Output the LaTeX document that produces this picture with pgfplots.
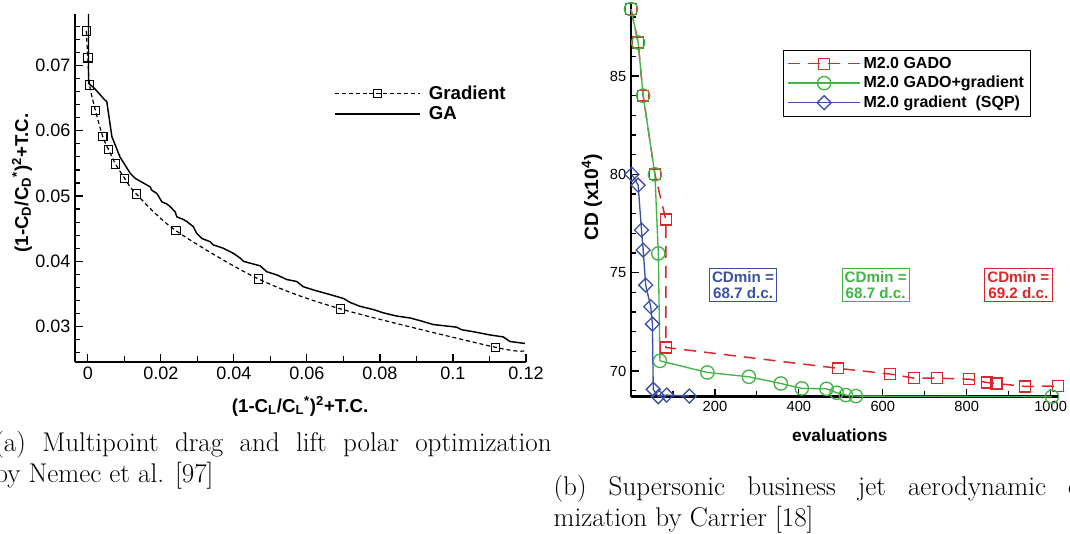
\documentclass[border=0pt]{standalone}
\usepackage{fontspec}
\usepackage{pgfplots}
\pgfplotsset{compat=1.18}
\newfontfamily\sans{Liberation Sans}
\definecolor{cred}{RGB}{218,37,42}
\definecolor{cgreen}{RGB}{65,180,70}
\definecolor{cblue}{RGB}{60,80,165}
\begin{document}
\begin{tikzpicture}
\useasboundingbox (0,0) rectangle (802.5pt,-400.5pt);
\clip (0,0) rectangle (802.5pt,-400.5pt);
% ---------------- left chart ----------------
\begin{axis}[
 at={(56.25pt,-271.3pt)}, anchor=south west, scale only axis,
 width=338.25pt, height=260.8pt,
 xmin=-0.0035, xmax=0.12, ymin=0.0246, ymax=0.0779,
 axis lines=left, axis line style={-, line width=1.6pt},
 every axis x label/.style={at={(axis description cs:0.499,-0.127)}, anchor=center},
 every axis y label/.style={at={(axis description cs:-0.1175,0.514)}, anchor=center, rotate=90},
 scaled ticks=false,
 tick align=inside,
 xtick={0,0.02,0.04,0.06,0.08,0.1,0.12},
 xticklabels={0,0.02,0.04,0.06,0.08,0.1,0.12},
 ytick={0.03,0.04,0.05,0.06,0.07},
 yticklabels={0.03,0.04,0.05,0.06,0.07},
 minor xtick={0.01,0.03,0.05,0.07,0.09,0.11},
 minor ytick={0.026,0.028,0.032,0.034,0.036,0.038,0.042,0.044,0.046,0.048,0.052,0.054,0.056,0.058,0.062,0.064,0.066,0.068,0.072,0.074,0.076},
 major tick length=6pt, minor tick length=4pt,
 every tick/.style={black, line width=0.9pt},
 tick label style={font=\sans\fontsize{13.5}{15}\selectfont},
 label style={font=\sans\bfseries\fontsize{14}{16}\selectfont},
 xlabel={(1-C\textsubscript{L}/C\textsubscript{L}\textsuperscript{*})\textsuperscript{2}+T.C.},
 ylabel={(1-C\textsubscript{D}/C\textsubscript{D}\textsuperscript{*})\textsuperscript{2}+T.C.},
 legend style={at={(axis description cs:0.565,0.81)}, anchor=north west, draw=none, fill=none,
   font=\sans\bfseries\fontsize{14}{16}\selectfont, cells={anchor=west}, row sep=0pt,
   nodes={inner xsep=6pt}},
 legend image code/.code={\draw[#1, mark indices={2}] plot coordinates {(0pt,0pt) (32pt,0pt) (64pt,0pt)};},
 clip=false,
]
\addplot[black, line width=0.9pt, dash pattern=on 3pt off 2.2pt, smooth, tension=0.5,
  mark=square, mark size=3.2pt, mark options={solid, line width=0.8pt}, mark indices={1,...,13}]
 coordinates {(-0.0004,0.0753) (0,0.0712) (0.0005,0.0670) (0.0021,0.0631) (0.0041,0.0591)
 (0.0057,0.0571) (0.0076,0.0549) (0.0101,0.0527) (0.0133,0.0503) (0.0241,0.0447)
 (0.0467,0.0373) (0.0692,0.0327) (0.1117,0.0268) (0.1197,0.0263)};
\addlegendentry{Gradient}
\addplot[black, line width=1.1pt, no markers]
 coordinates {(0.0002,0.0779)(0.0002,0.0673)(0.0020,0.0664)(0.0047,0.0647)(0.0052,0.0645)
 (0.0066,0.0591)(0.0088,0.0560)(0.0116,0.0535)(0.0130,0.0527)(0.0152,0.0520)(0.0171,0.0514)
 (0.0175,0.0509)(0.0189,0.0504)(0.0203,0.0491)(0.0216,0.0488)(0.0225,0.0484)(0.0239,0.0476)
 (0.0244,0.0468)(0.0262,0.0464)(0.0271,0.0461)(0.0289,0.0453)(0.0298,0.0443)(0.0312,0.0435)
 (0.0335,0.0430)(0.0344,0.0425)(0.0371,0.0420)(0.0399,0.0412)(0.0417,0.0405)(0.0426,0.0400)
 (0.0445,0.0397)(0.0472,0.0393)(0.0490,0.0384)(0.0518,0.0379)(0.0545,0.0372)(0.0572,0.0369)
 (0.0590,0.0361)(0.0618,0.0356)(0.0663,0.0349)(0.0700,0.0343)(0.0718,0.0337)(0.0745,0.0331)
 (0.0782,0.0326)(0.0809,0.0321)(0.0846,0.0316)(0.0883,0.0313)(0.0910,0.0309)(0.0946,0.0303)
 (0.1010,0.0299)(0.1024,0.0295)(0.1056,0.0292)(0.1102,0.0287)(0.1138,0.0284)(0.1156,0.0277)
 (0.1197,0.0274)};
\addlegendentry{GA}
\end{axis}
% ---------------- right chart ----------------
\begin{axis}[
 at={(473.25pt,-297.5pt)}, anchor=south west, scale only axis,
 width=321pt, height=295.1pt,
 xmin=0, xmax=1020, ymin=68.7, ymax=88.7,
 axis lines=left, axis line style={-, line width=1.8pt},
 every axis x label/.style={at={(axis description cs:0.488,-0.097)}, anchor=center},
 every axis y label/.style={at={(axis description cs:-0.091,0.507)}, anchor=center, rotate=90},
 tick align=inside,
 xtick={200,400,600,800,1000}, minor xtick={100,300,500,700,900},
 ytick={70,75,80,85}, minor ytick={69,...,88},
 major tick length=6pt, minor tick length=4pt,
 every tick/.style={black, line width=0.9pt},
 /pgf/number format/assume math mode=true, /pgf/number format/1000 sep={},
 tick label style={font=\sans\fontsize{11}{13}\selectfont},
 label style={font=\sans\bfseries\fontsize{13}{15}\selectfont},
 ylabel style={font=\sans\bfseries\fontsize{14.5}{16}\selectfont},
 xlabel={evaluations},
 ylabel={CD (x10\textsuperscript{4})},
 legend style={at={(axis description cs:0.355,0.881)}, anchor=north west, draw=black, line width=0.7pt,
   fill=white, font=\sans\bfseries\fontsize{12}{14}\selectfont, cells={anchor=west}, row sep=0.5pt,
   inner xsep=3pt, inner ysep=3pt},
 legend image code/.code={\draw[#1, mark indices={2}] plot coordinates {(0pt,0pt) (27pt,0pt) (54pt,0pt)};},
 clip=false,
]
\addplot[cred, line width=1.1pt, dash pattern=on 9pt off 6pt, mark=square, mark size=4.1pt,
  mark options={solid, line width=1pt}]
 coordinates {(0,88.4) (17,86.7) (29,84.0) (57,80.0) (83,77.7) (83,71.2) (494,70.14) (617,69.85)
 (675,69.64) (729,69.64) (806,69.59) (848,69.42) (871,69.37) (939,69.22) (1018,69.24)};
\addlegendentry{M2.0 GADO}
\addplot[cgreen, line width=1pt, mark=o, mark size=5pt, mark options={solid, line width=1pt}]
 coordinates {(0,88.4) (17,86.7) (29,84.0) (57,80.0) (65,75.98) (69,70.52) (182,69.93) (281,69.71)
 (357,69.37) (407,69.12) (466,69.10) (490,68.90) (512,68.78) (536,68.73) (1003,68.7)};
\addlegendentry{M2.0 GADO+gradient}
\addplot[cblue, line width=1pt, mark=square, mark size=3.7pt, mark options={solid, rotate=45, line width=1pt}]
 coordinates {(2,80.0) (17,79.45) (25,77.17) (29,76.15) (35,74.37) (47,73.27) (51,72.39) (53,69.07)
 (65,68.7) (85,68.78) (139,68.73)};
\addlegendentry{M2.0 gradient\ \ (SQP)}
\node[draw=cblue, text=cblue, line width=0.6pt, align=center, inner sep=2pt,
  font=\sans\bfseries\fontsize{11.4}{12.5}\selectfont] at (axis cs:267,74.37) {CDmin =\\ 68.7 d.c.};
\node[draw=cgreen, text=cgreen, line width=0.6pt, align=center, inner sep=2pt,
  font=\sans\bfseries\fontsize{11.4}{12.5}\selectfont] at (axis cs:583,74.37) {CDmin =\\ 68.7 d.c.};
\node[draw=cred, text=cred, line width=0.6pt, align=center, inner sep=2pt,
  font=\sans\bfseries\fontsize{11.4}{12.5}\selectfont] at (axis cs:923,74.37) {CDmin =\\ 69.2 d.c.};
\end{axis}
% ---------------- captions ----------------
\begin{scope}[font=\fontsize{20.3}{24.4}\selectfont]
\node[anchor=base west, inner sep=0pt] at (-4.5pt,-338.8pt) {\makebox[418pt][s]{(a) Multipoint drag and lift polar optimization}};
\node[anchor=base west, inner sep=0pt] at (-4.5pt,-361.5pt) {by Nemec et al. [97]};
\node[anchor=base west, inner sep=0pt] at (415pt,-371.25pt) {\makebox[424pt][s]{(b) Supersonic business jet aerodynamic opti-}};
\node[anchor=base west, inner sep=0pt] at (415pt,-395pt) {mization by Carrier [18]};
\end{scope}
\end{tikzpicture}
\end{document}
